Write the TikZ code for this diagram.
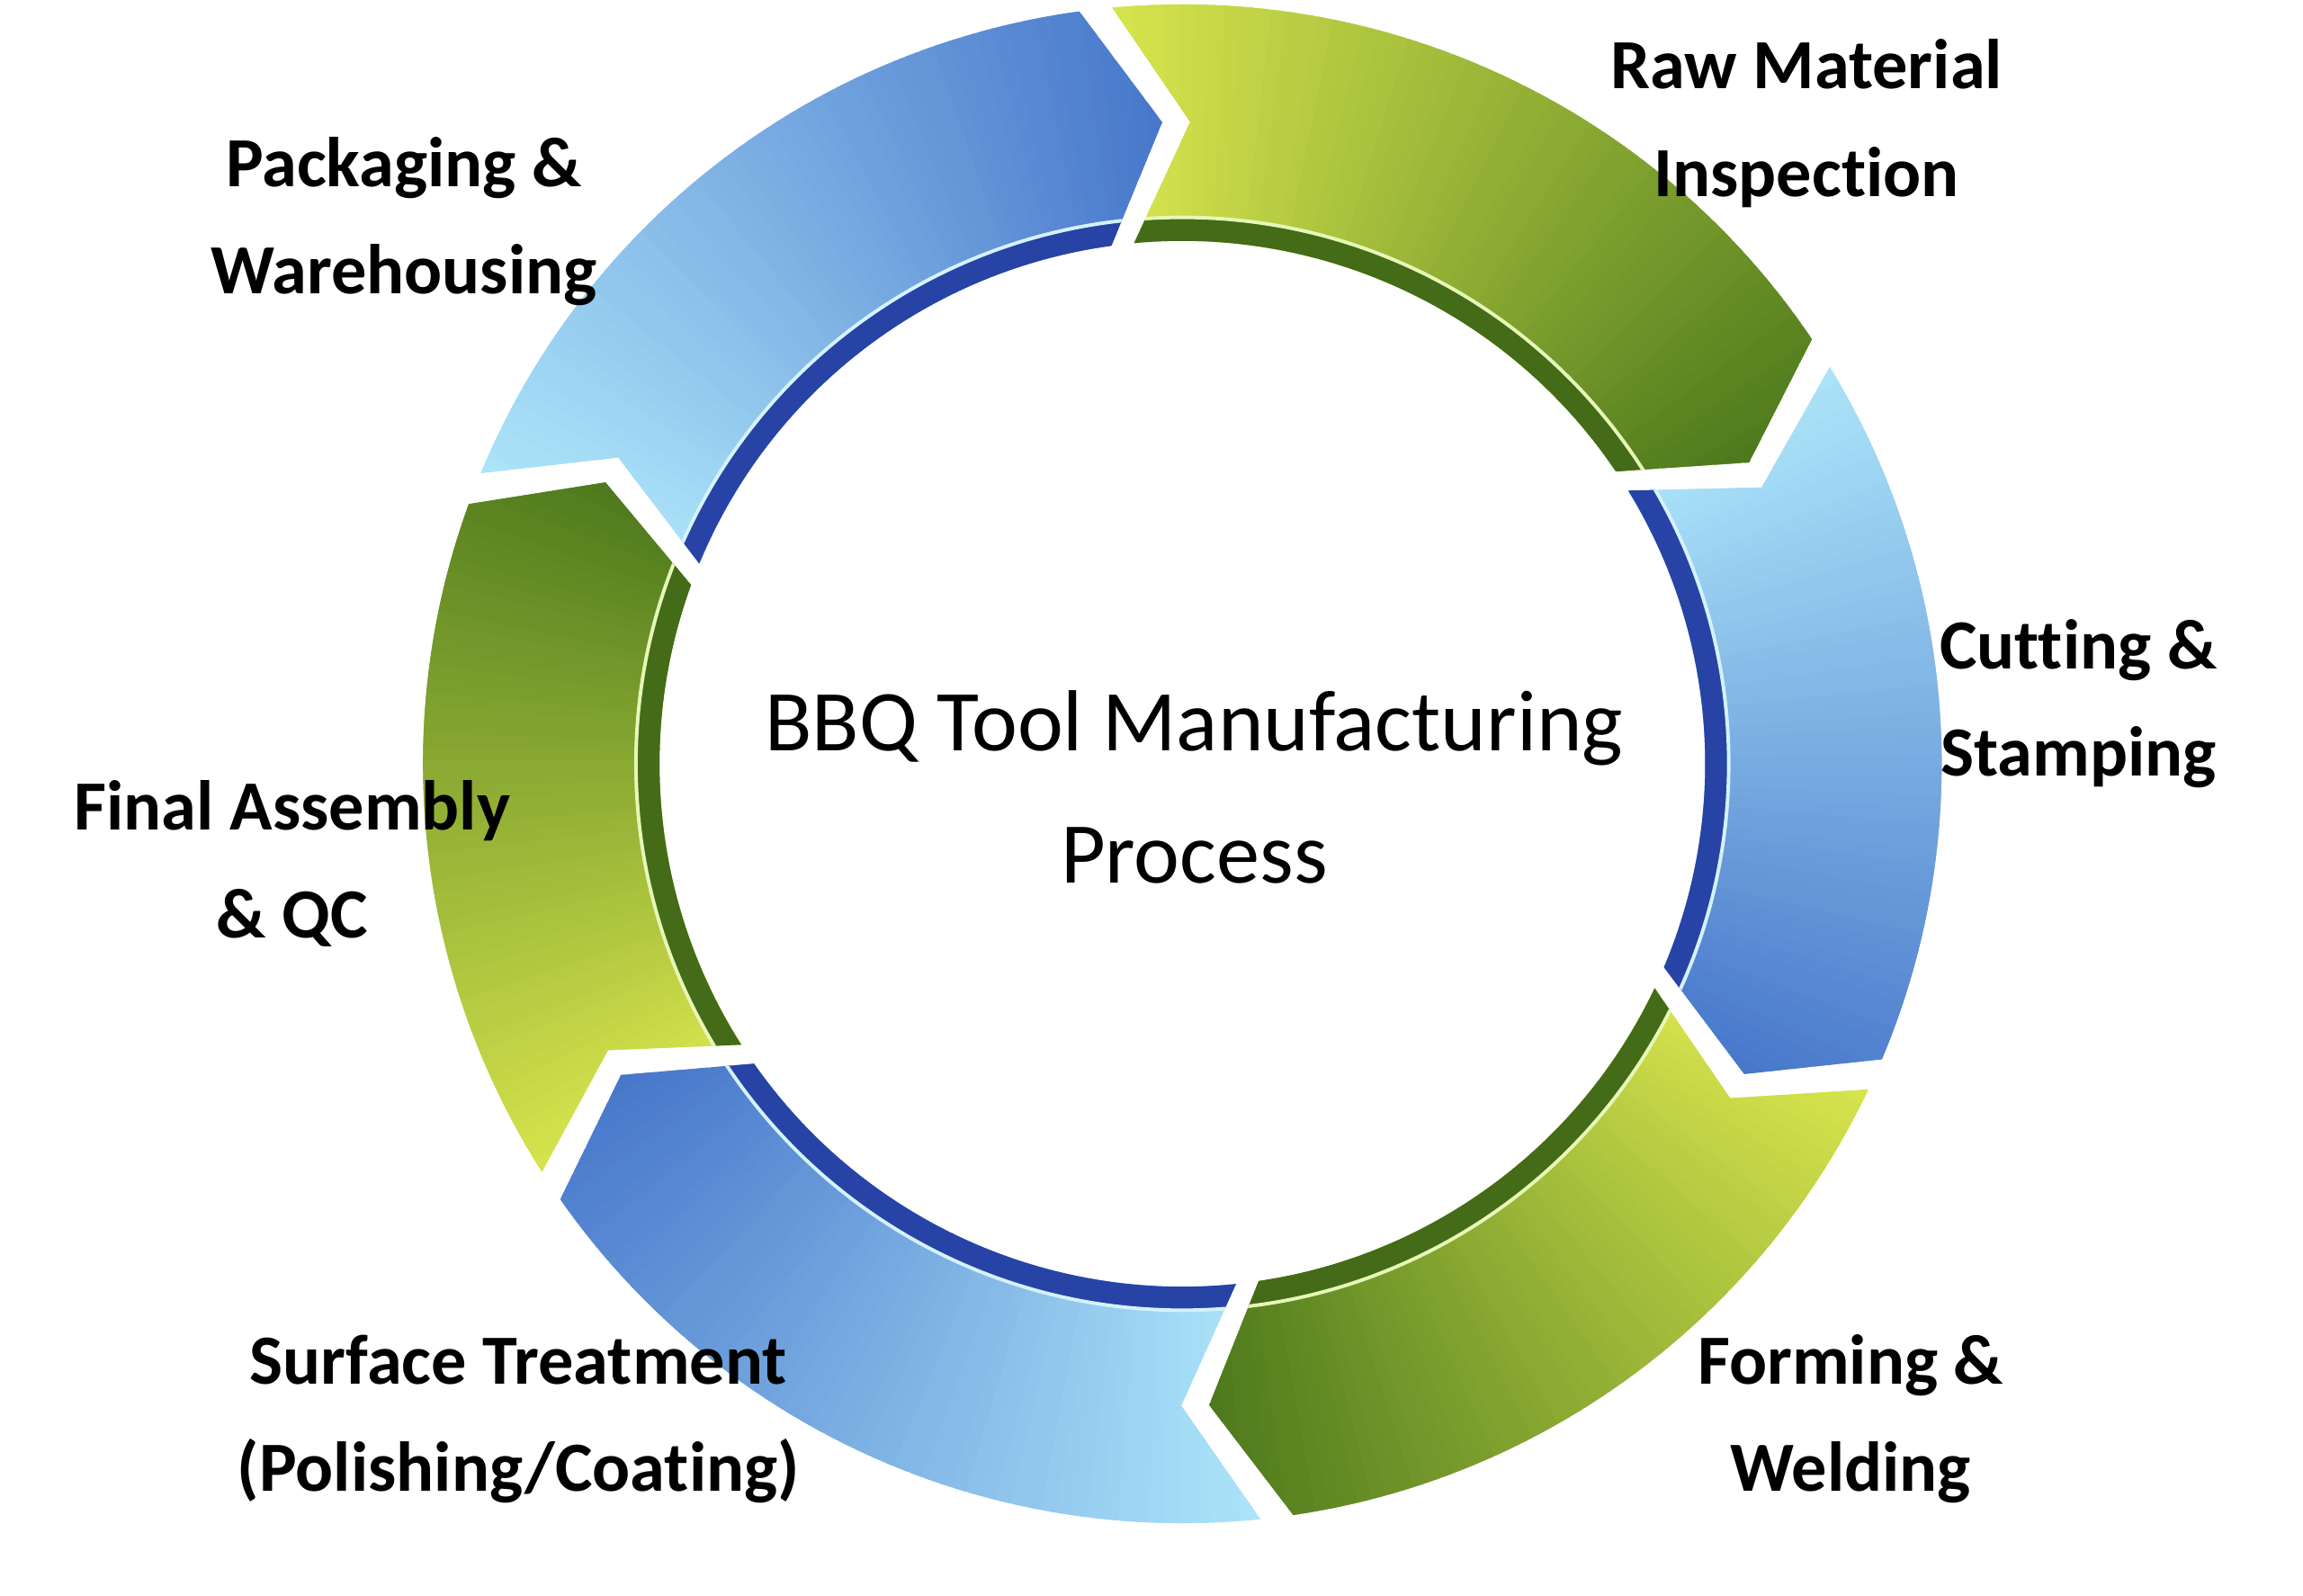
\documentclass[tikz,border=0pt]{standalone}
\usepackage{fontspec}
\setmainfont{Carlito}[Ligatures=NoCommon]
\usepackage{tikz}

\definecolor{bluetail}{HTML}{AEE6FA}
\definecolor{bluehead}{HTML}{4675CA}
\definecolor{blueband}{HTML}{2743A6}
\definecolor{blueline}{HTML}{D4F2FF}
\definecolor{greentail}{HTML}{D9E64E}
\definecolor{greenhead}{HTML}{4B781C}
\definecolor{greenband}{HTML}{446B17}
\definecolor{greenline}{HTML}{E6F7B8}

% one arrow of the ring: #1 tail angle, #2 head angle, #3 blue or green
\newcommand\ringpart[3]{%
  \begin{scope}
    \clip ({#1+6}:517) arc[start angle={#1+6}, end angle={#2+6}, radius=517]
      -- (#2:437) -- ({#2+6}:356)
      arc[start angle={#2+6}, end angle={#1+6}, radius=356]
      -- (#1:437) -- cycle;
    \foreach \i in {0,...,59}{
      \pgfmathsetmacro\a{#1+8-\i*(#1-#2+9)/60}
      \pgfmathsetmacro\b{\a-(#1-#2+9)/60-1}
      \pgfmathtruncatemacro\pct{\i*100/59}
      \fill[#3head!\pct!#3tail] (0,0) -- (\a:600)
        arc[start angle=\a, end angle=\b, radius=600] -- cycle;
    }
    \fill[#3band] (0,0) circle[radius=372];
    \draw[#3line, line width=1.2pt] (0,0) circle[radius=372];
  \end{scope}}

\begin{document}
\begin{tikzpicture}[x=0.5pt, y=0.5pt,
  phase/.style={font=\fontsize{24}{36.5}\selectfont\bfseries, align=center},
  title/.style={font=\fontsize{29.5}{45}\selectfont, align=center}]
\useasboundingbox (-805,-566) rectangle (763,520);

\ringpart{89.3}{28}{green}
\ringpart{25.5}{-28.9}{blue}
\ringpart{-31.4}{-87.6}{green}
\ringpart{-90.1}{-151}{blue}
\ringpart{-153.5}{-206}{green}
\ringpart{151.5}{91.8}{blue}

\node[title] (center) at (8,-16) {BBQ Tool Manufacturing\\Process};
\node[phase] (raw) at (425,436) {Raw Material\\Inspection};
\node[phase] (cut) at (610,41) {Cutting \&\\Stamping};
\node[phase] (form) at (455,-446) {Forming \&\\Welding};
\node[phase] (surf) at (-452,-446) {Surface Treatment\\(Polishing/Coating)};
\node[phase] (final) at (-606,-68) {Final Assembly\\\& QC};
\node[phase] (pack) at (-530,369) {Packaging \&\\Warehousing};
\end{tikzpicture}
\end{document}
